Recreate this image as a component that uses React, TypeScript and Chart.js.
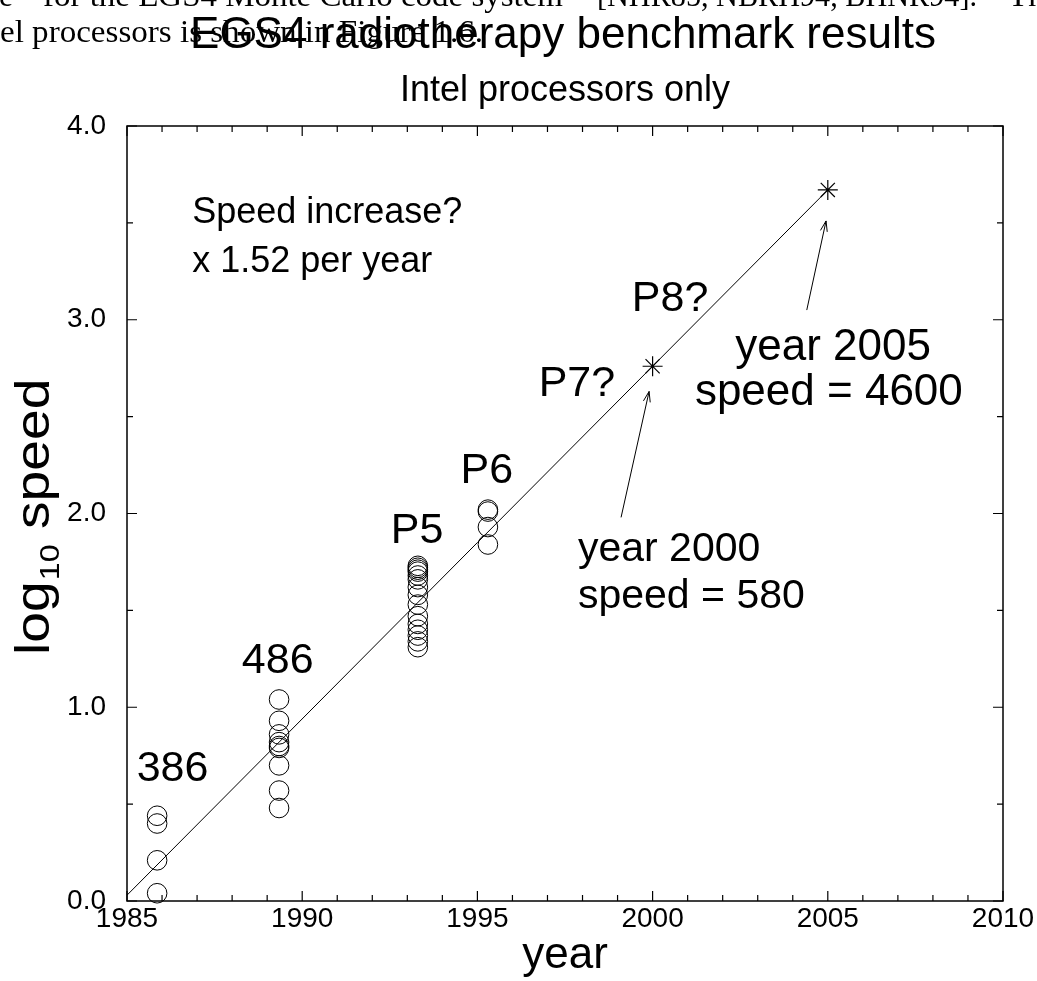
import React, { useEffect, useRef } from "react";
import { Chart, registerables } from "chart.js";
Chart.register(...registerables);

// ---- data ----
const year386 = [1985.86, 1985.86, 1985.86, 1985.86];
const log386 = [0.44, 0.4, 0.21, 0.04];
const year486 = [1989.34, 1989.34, 1989.34, 1989.34, 1989.34, 1989.34, 1989.34, 1989.34, 1989.34];
const log486 = [1.04, 0.93, 0.86, 0.82, 0.8, 0.79, 0.7, 0.57, 0.48];
const yearP5 = [1993.3, 1993.3, 1993.3, 1993.3, 1993.3, 1993.3, 1993.3, 1993.3, 1993.3, 1993.3, 1993.3, 1993.3, 1993.3, 1993.3, 1993.3];
const logP5 = [1.73, 1.72, 1.71, 1.7, 1.68, 1.66, 1.62, 1.58, 1.53, 1.47, 1.43, 1.4, 1.37, 1.34, 1.31];
const yearP6 = [1995.3, 1995.3, 1995.3, 1995.3];
const logP6 = [2.02, 2.01, 1.93, 1.84];
const yearProj = [2000, 2005];
const logProj = [2.76, 3.67];
const fitYear = [1985, 2005];
const fitLog = [0.03, 3.67];

const xTickLabels = ["1985", "1990", "1995", "2000", "2005", "2010"];
const yTickLabels = ["0.0", "1.0", "2.0", "3.0", "4.0"];

const noteText = ["Speed increase?", "x 1.52 per year", "P8?", "P7?", "year 2005", "speed = 4600", "year 2000", "speed = 580", "P5", "P6", "486", "386"];
const noteYear = [1986.86, 1986.86, 2000.5, 1997.84, 2005.15, 2005.03, 1997.87, 1997.87, 1993.28, 1995.27, 1989.3, 1986.3];
const noteLog = [3.548, 3.3, 3.104, 2.666, 2.857, 2.625, 1.814, 1.572, 1.909, 2.218, 1.238, 0.679];
const noteAlign = ["left", "left", "center", "center", "center", "center", "left", "left", "center", "center", "center", "center"];
const noteSize = [36, 36, 43, 43, 44, 44, 41, 41, 43, 43, 43, 43];

const arrowFromYear = [1999.1, 2004.4];
const arrowFromLog = [1.98, 3.05];
const arrowToYear = [1999.9, 2004.95];
const arrowToLog = [2.63, 3.51];

const SANS = "'Liberation Sans', Arial, Helvetica, sans-serif";
const SERIF = "'Liberation Serif', 'Times New Roman', serif";

const pts = (xs: number[], ys: number[]) => xs.map((x, i) => ({ x, y: ys[i] }));

function fitText(ctx: CanvasRenderingContext2D, text: string, x0: number, x1: number, base: number, font: string) {
  ctx.save();
  ctx.font = font;
  ctx.textAlign = "left";
  ctx.textBaseline = "alphabetic";
  const w = ctx.measureText(text).width;
  ctx.translate(x0, base);
  ctx.scale((x1 - x0) / w, 1);
  ctx.fillText(text, 0, 0);
  ctx.restore();
}

const framePlugin = {
  id: "frame",
  beforeDatasetsDraw(chart: any) {
    const { ctx, chartArea: a, scales } = chart;
    const xs = scales.x, ys = scales.y;
    ctx.save();
    ctx.strokeStyle = "#000";
    ctx.lineWidth = 1.5;
    ctx.strokeRect(a.left, a.top, a.right - a.left, a.bottom - a.top);
    ctx.lineWidth = 1.2;
    ctx.beginPath();
    for (let v = xs.min; v <= xs.max + 1e-9; v += 1) {
      const px = xs.getPixelForValue(v);
      const len = Math.abs(v % 5) < 1e-9 ? 10 : 6;
      ctx.moveTo(px, a.bottom); ctx.lineTo(px, a.bottom - len);
      ctx.moveTo(px, a.top); ctx.lineTo(px, a.top + len);
    }
    for (let v = ys.min; v <= ys.max + 1e-9; v += 0.5) {
      const py = ys.getPixelForValue(v);
      const len = Math.abs(v % 1) < 1e-9 ? 10 : 6;
      ctx.moveTo(a.left, py); ctx.lineTo(a.left + len, py);
      ctx.moveTo(a.right, py); ctx.lineTo(a.right - len, py);
    }
    ctx.stroke();
    ctx.restore();
  },
  afterDraw(chart: any) {
    const { ctx, scales } = chart;
    const xs = scales.x, ys = scales.y;
    ctx.save();
    ctx.fillStyle = "#000";
    ctx.strokeStyle = "#000";
    // arrows
    ctx.lineWidth = 1;
    for (let i = 0; i < arrowFromYear.length; i++) {
      const x0 = xs.getPixelForValue(arrowFromYear[i]);
      const y0 = ys.getPixelForValue(arrowFromLog[i]);
      const x1 = xs.getPixelForValue(arrowToYear[i]);
      const y1 = ys.getPixelForValue(arrowToLog[i]);
      const ang = Math.atan2(y1 - y0, x1 - x0);
      const hl = 11, ha = 0.32;
      ctx.beginPath();
      ctx.moveTo(x0, y0); ctx.lineTo(x1, y1);
      ctx.moveTo(x1 - hl * Math.cos(ang - ha), y1 - hl * Math.sin(ang - ha));
      ctx.lineTo(x1, y1);
      ctx.lineTo(x1 - hl * Math.cos(ang + ha), y1 - hl * Math.sin(ang + ha));
      ctx.stroke();
    }
    // annotations
    ctx.textBaseline = "middle";
    for (let i = 0; i < noteText.length; i++) {
      ctx.font = `${noteSize[i]}px ${SANS}`;
      ctx.textAlign = noteAlign[i] as CanvasTextAlign;
      ctx.fillText(noteText[i], xs.getPixelForValue(noteYear[i]), ys.getPixelForValue(noteLog[i]));
    }
    // background page text (serif)
    fitText(ctx, "e", -1, 13, 6, `32px ${SERIF}`);
    fitText(ctx, "for the EGS4 Monte Carlo code system", 43, 563, 6, `32px ${SERIF}`);
    fitText(ctx, "[NHR85, NBRH94, BHNR94].", 597, 977, 6, `32px ${SERIF}`);
    fitText(ctx, "Th", 1008, 1045, 6, `32px ${SERIF}`);
    fitText(ctx, "el processors is shown in Figure 1.6.", 0, 483, 42, `32px ${SERIF}`);
    // titles
    ctx.textAlign = "center";
    ctx.textBaseline = "alphabetic";
    ctx.font = `44px ${SANS}`;
    ctx.fillText("EGS4 radiotherapy benchmark results", 563, 48);
    ctx.font = `36px ${SANS}`;
    ctx.fillText("Intel processors only", 565, 101);
    // x title
    ctx.font = `44px ${SANS}`;
    ctx.fillText("year", 565, 968);
    // y title with subscript (rotated)
    ctx.translate(49, 655);
    ctx.rotate(-Math.PI / 2);
    ctx.scale(1.15, 1);
    ctx.textAlign = "left";
    ctx.font = `48px ${SANS}`;
    const wLog = ctx.measureText("log").width;
    ctx.fillText("log", 0, 0);
    ctx.font = `28px ${SANS}`;
    const wSub = ctx.measureText("10").width;
    ctx.fillText("10", wLog + 1, 10);
    ctx.font = `48px ${SANS}`;
    ctx.fillText(" speed", wLog + 1 + wSub, 0);
    ctx.restore();
  },
};

const circleDs = (xs: number[], ys: number[]) => ({
  type: "scatter" as const,
  data: pts(xs, ys),
  pointStyle: "circle",
  pointRadius: 9.8,
  borderColor: "#000",
  backgroundColor: "rgba(0,0,0,0)",
  borderWidth: 1,
  clip: false as const,
});

export default function App() {
  const ref = useRef<HTMLCanvasElement>(null);
  useEffect(() => {
    if (!ref.current) return;
    Chart.defaults.font.family = SANS;
    const chart = new Chart(ref.current, {
      type: "scatter",
      data: {
        datasets: [
          {
            type: "line",
            data: pts(fitYear, fitLog),
            borderColor: "#000",
            borderWidth: 1,
            pointRadius: 0,
            fill: false,
            tension: 0,
          } as any,
          circleDs(year386, log386),
          circleDs(year486, log486),
          circleDs(yearP5, logP5),
          circleDs(yearP6, logP6),
          {
            type: "scatter",
            data: pts(yearProj, logProj),
            pointStyle: "star",
            pointRadius: 10,
            borderColor: "#000",
            backgroundColor: "#000",
            borderWidth: 1.2,
            clip: false,
          } as any,
        ],
      },
      options: {
        animation: false,
        responsive: false,
        devicePixelRatio: 1,
        events: [],
        layout: { padding: { top: 126, right: 34, left: 0, bottom: 0 } },
        plugins: { legend: { display: false }, tooltip: { enabled: false }, title: { display: false } },
        scales: {
          x: {
            type: "linear",
            min: 1985,
            max: 2010,
            grid: { display: false, drawTicks: false },
            border: { display: false },
            ticks: {
              stepSize: 5,
              padding: 1,
              color: "#000",
              font: { size: 28, family: SANS },
              maxRotation: 0,
              callback: (v: any) => xTickLabels[Math.round((Number(v) - 1985) / 5)] ?? "",
            },
            afterFit: (s: any) => { s.height = 80; },
          },
          y: {
            type: "linear",
            min: 0,
            max: 4,
            grid: { display: false, drawTicks: false },
            border: { display: false },
            ticks: {
              stepSize: 1,
              padding: 21,
              color: "#000",
              font: { size: 28, family: SANS },
              callback: (v: any) => yTickLabels[Math.round(Number(v))] ?? "",
            },
            afterFit: (s: any) => { s.width = 127; },
          },
        },
      },
      plugins: [framePlugin],
    });
    return () => chart.destroy();
  }, []);
  return (
    <div style={{ position: "absolute", left: 0, top: 0, width: 1037, height: 981, background: "#fff" }}>
      <canvas ref={ref} width={1037} height={981} style={{ display: "block", width: 1037, height: 981 }} />
    </div>
  );
}
